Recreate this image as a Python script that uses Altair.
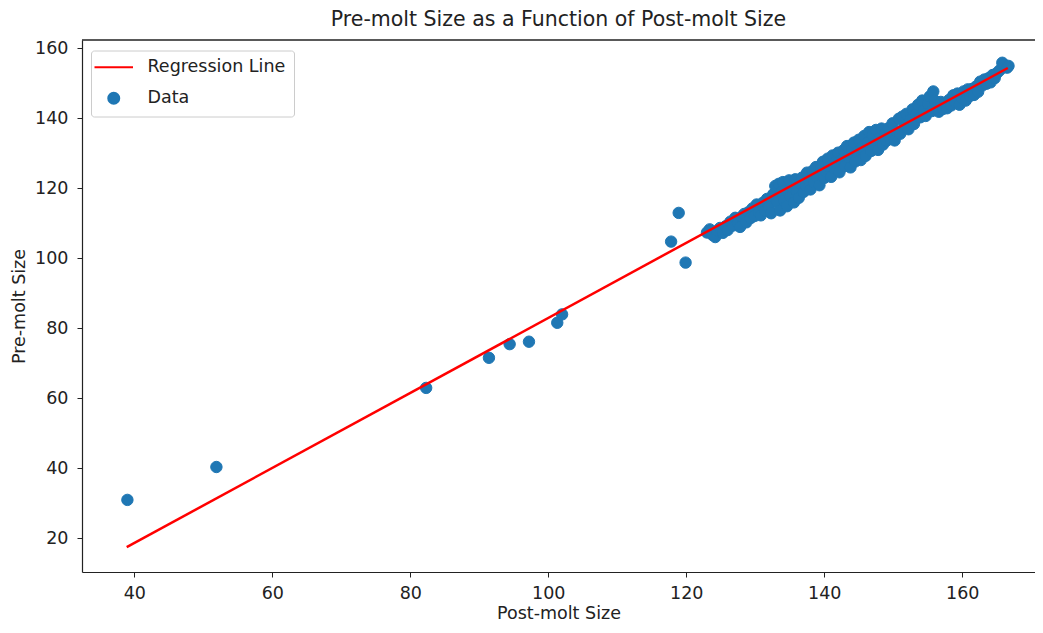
import altair as alt
import pandas as pd

FONT = "DejaVu Sans"

# scattered low points
out_x = [39.0, 51.9, 82.3, 91.4, 94.4, 97.2, 101.3, 102.0, 117.8, 118.9, 119.9]
out_y = [30.9, 40.3, 62.9, 71.5, 75.4, 76.1, 81.5, 83.9, 104.7, 112.9, 98.7]

# dense cluster
cluster_x = [
    123.0, 123.4, 123.8, 124.2, 124.5, 124.9, 125.3, 125.7, 126.0, 126.4, 126.8, 127.1, 127.5,
    127.8, 128.1, 128.4, 128.7, 129.0, 129.3, 129.6, 129.9, 130.2, 130.5, 130.8,
    131.1, 131.4, 131.7, 132.0, 132.3, 132.6, 132.9, 133.2, 133.4, 133.6, 133.8,
    134.0, 134.2, 134.4, 134.6, 134.9, 135.1, 135.3, 135.6, 135.8, 136.0, 136.3, 136.5, 136.8, 137.0, 137.3, 137.5, 137.8,
    138.0, 138.3, 138.5, 138.8, 139.0, 139.3, 139.5, 139.8, 140.0, 140.2, 140.5, 140.7,
    141.0, 141.2, 141.5, 141.7, 142.0, 142.2, 142.5, 142.8, 143.0, 143.3, 143.5, 143.8, 144.0, 144.3, 144.5, 144.8,
    145.0, 145.3, 145.5, 145.8, 146.0, 146.3, 146.5, 146.8, 147.0, 147.3, 147.5, 147.8, 148.0, 148.3, 148.5, 148.8, 149.0, 149.3, 149.6,
    149.9, 150.2, 150.5, 150.8, 151.0, 151.3, 151.6, 151.9, 152.2, 152.5, 152.8, 153.0, 153.3, 153.6, 153.9, 154.2, 154.4,
    154.7, 155.0, 155.3, 155.6, 155.8, 156.0, 156.3, 156.6, 156.9, 157.2,
    157.5, 157.8, 158.1, 158.4, 158.7, 159.0, 159.3, 159.6, 159.9, 160.2, 160.5, 160.8, 161.1, 161.4, 161.7, 162.0, 162.3, 162.6, 162.9, 163.2,
    163.5, 163.8, 164.1, 164.4, 164.7, 165.0, 165.4, 165.8, 166.1, 166.5, 166.7,
]
cluster_y = [
    107.3, 108.2, 106.6, 106.0, 107.8, 108.6, 107.2, 109.1, 108.0, 110.4, 109.3, 111.5, 110.0,
    108.9, 111.9, 112.6, 110.2, 113.1, 111.4, 114.2, 112.0, 115.3, 113.0, 112.2,
    115.8, 113.5, 116.9, 114.6, 112.8, 118.2, 120.6, 116.0, 121.2, 113.6, 118.9,
    121.7, 116.4, 119.5, 114.8, 122.2, 117.6, 120.3, 115.9, 122.5, 119.0, 117.2, 121.4, 123.0, 118.9, 120.8, 124.4, 122.0,
    119.6, 124.9, 121.7, 126.0, 123.0, 120.8, 125.6, 127.5, 122.9, 124.9, 128.4, 126.2,
    123.2, 129.3, 125.5, 127.6, 130.1, 124.5, 128.0, 130.8, 126.3, 132.0, 128.8, 125.9, 131.0, 133.0, 127.6, 130.3,
    133.8, 128.0, 131.6, 134.9, 129.2, 133.0, 136.0, 130.6, 135.2, 132.3, 136.6, 130.9, 134.2, 137.0, 132.4, 135.6, 133.5, 137.1, 134.0,
    138.5, 133.6, 136.2, 139.8, 135.5, 140.4, 137.3, 141.2, 136.8, 139.6, 142.5, 138.3, 141.0, 143.8, 140.2, 145.0, 142.1,
    140.6, 144.0, 146.2, 142.0, 147.6, 145.0, 143.0, 141.8, 144.6, 142.6,
    144.0, 142.8, 145.2, 143.6, 146.5, 144.5, 147.0, 143.8, 145.8, 147.6, 145.0, 148.2, 146.3, 148.3, 146.6, 149.0, 147.5, 150.4, 149.3, 151.0,
    149.8, 151.4, 150.2, 152.3, 151.4, 152.8, 153.6, 155.8, 155.2, 154.4, 154.9,
]

# fitted regression line end points
line_x = [38.9, 166.6]
line_y = [17.4, 154.3]

series_names = ["Regression Line", "Data"]
series_colors = ["#ff0000", "#1f77b4"]
series_shapes = ["M-3.5,0H3.5", "circle"]

x_ticks = [40, 60, 80, 100, 120, 140, 160]
y_ticks = [20, 40, 60, 80, 100, 120, 140, 160]

pts = pd.DataFrame({"post": out_x + cluster_x, "pre": out_y + cluster_y})
pts["series"] = "Data"
line = pd.DataFrame({"post": line_x, "pre": line_y})
line["series"] = "Regression Line"

x_scale = alt.Scale(domain=[32.42, 170.54], nice=False, zero=False)
y_scale = alt.Scale(domain=[10.3, 162.3], nice=False, zero=False)

x_enc = alt.X(
    "post:Q",
    scale=x_scale,
    axis=alt.Axis(values=x_ticks, title="Post-molt Size", format="d"),
)
y_enc = alt.Y(
    "pre:Q",
    scale=y_scale,
    axis=alt.Axis(values=y_ticks, title="Pre-molt Size", format="d"),
)


def make_legend():
    return alt.Legend(
        title=None,
        orient="none",
        legendX=9,
        legendY=10.5,
        padding=8,
        strokeColor="#cccccc",
        fillColor="white",
        cornerRadius=3,
        labelFont=FONT,
        labelFontSize=17.5,
        labelColor="#222222",
        symbolSize=121,
        symbolOffset=6,
        labelOffset=25,
        rowPadding=12,
        symbolStrokeWidth=2,
        symbolOpacity=1,
    )


color_scale = alt.Scale(domain=series_names, range=series_colors)
shape_scale = alt.Scale(domain=series_names, range=series_shapes)

points = alt.Chart(pts).mark_point(filled=True, opacity=1, size=130, strokeWidth=1).encode(
    x=x_enc,
    y=y_enc,
    color=alt.Color("series:N", scale=color_scale, legend=make_legend()),
    stroke=alt.Stroke("series:N", scale=color_scale, legend=make_legend()),
    shape=alt.Shape("series:N", scale=shape_scale, legend=make_legend()),
)

reg = alt.Chart(line).mark_line(strokeWidth=2.5).encode(
    x=x_enc,
    y=y_enc,
    color=alt.Color("series:N", scale=color_scale, legend=None),
)

# top spine of the axes box (the right spine lies beyond the picture's edge)
top_spine = alt.Chart(line).mark_rule(color="#222222", strokeWidth=1.2).encode(
    y=alt.value(0)
)

chart = (
    alt.layer(points, reg, top_spine)
    .properties(
        width=953,
        height=532,
        autosize=alt.AutoSizeParams(type="none"),
        padding={"left": 74, "top": 32, "right": 0, "bottom": 52},
        title=alt.TitleParams(
            "Pre-molt Size as a Function of Post-molt Size",
            font=FONT,
            fontSize=20.5,
            fontWeight="normal",
            color="#222222",
            anchor="middle",
            offset=9,
        ),
    )
    .configure_view(stroke=None)
    .configure_axis(
        grid=False,
        domain=True,
        domainColor="#222222",
        domainWidth=1.2,
        tickColor="#222222",
        tickSize=5,
        tickWidth=1,
        labelFont=FONT,
        labelFontSize=17.5,
        labelColor="#222222",
        labelPadding=7,
        titleFont=FONT,
        titleFontSize=17.5,
        titleFontWeight="normal",
        titleColor="#222222",
    )
    .configure_axisY(labelPadding=9, titlePadding=6)
    .configure_axisX(titlePadding=3)
)

chart.save("out.html", embed_options={"renderer": "svg", "actions": False})
